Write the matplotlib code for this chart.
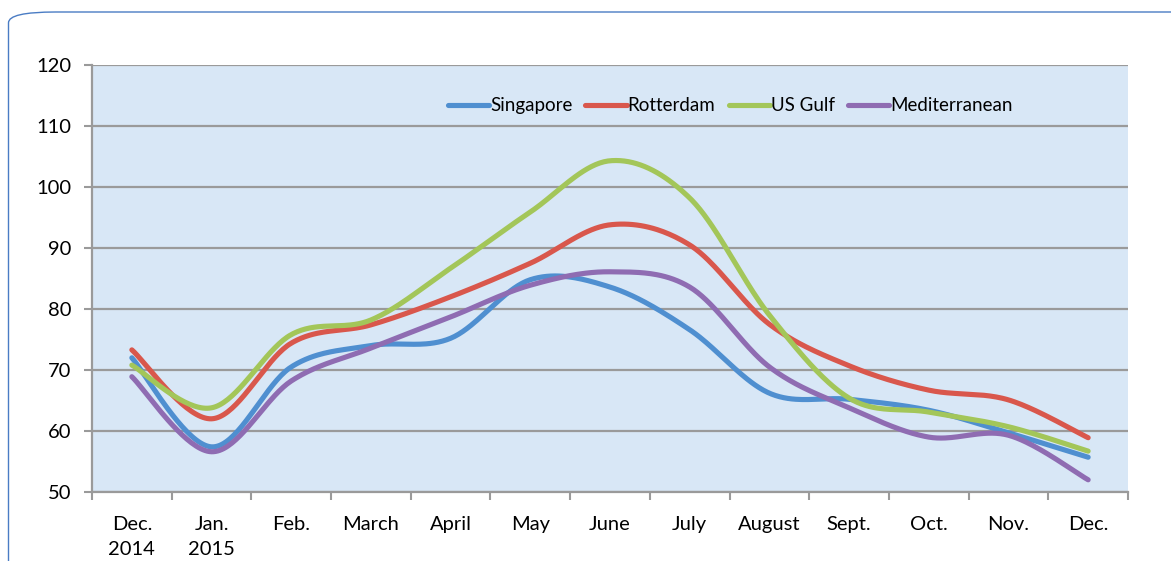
import numpy as np
import matplotlib
matplotlib.use("Agg")
import matplotlib.pyplot as plt
from matplotlib.patches import FancyBboxPatch

categories = ["Dec.\n2014", "Jan.\n2015", "Feb.", "March", "April", "May", "June",
              "July", "August", "Sept.", "Oct.", "Nov.", "Dec."]
singapore = [72.0, 57.4, 70.5, 74.0, 75.2, 84.8, 83.6, 76.6, 66.2, 65.2, 63.4, 59.7, 55.7]
rotterdam = [73.3, 62.0, 74.4, 77.4, 82.0, 87.5, 93.8, 90.5, 77.5, 70.7, 66.7, 65.1, 58.9]
us_gulf = [70.8, 63.8, 75.8, 78.2, 86.7, 95.9, 104.3, 98.2, 79.0, 65.4, 63.1, 60.7, 56.7]
mediterranean = [68.9, 56.6, 68.2, 73.6, 78.7, 83.9, 86.1, 83.6, 70.5, 63.8, 59.0, 59.3, 52.0]
series_names = ["Singapore", "Rotterdam", "US Gulf", "Mediterranean"]
colors = ["#4f8fd0", "#d9574c", "#a3c659", "#8f6cb2"]
yticks = [50, 60, 70, 80, 90, 100, 110, 120]

plt.rcParams['font.family'] = ['Lato', 'DejaVu Sans']


def smooth(xs, ys, n=40):
    """Excel-like smoothed line: Catmull-Rom style cubic Bezier segments."""
    xs = np.asarray(xs, float)
    ys = np.asarray(ys, float)
    px = np.concatenate([[xs[0]], xs, [xs[-1]]])
    py = np.concatenate([[ys[0]], ys, [ys[-1]]])
    outx, outy = [], []
    t = np.linspace(0, 1, n)
    for i in range(1, len(px) - 2):
        p0 = np.array([px[i], py[i]])
        p3 = np.array([px[i + 1], py[i + 1]])
        c1 = p0 + (np.array([px[i + 1], py[i + 1]]) - np.array([px[i - 1], py[i - 1]])) / 6.0
        c2 = p3 - (np.array([px[i + 2], py[i + 2]]) - np.array([px[i], py[i]])) / 6.0
        b = ((1 - t) ** 3)[:, None] * p0 + (3 * (1 - t) ** 2 * t)[:, None] * c1 \
            + (3 * (1 - t) * t ** 2)[:, None] * c2 + (t ** 3)[:, None] * p3
        outx.extend(b[:, 0])
        outy.extend(b[:, 1])
    return np.array(outx), np.array(outy)


fig = plt.figure(figsize=(11.71, 5.61), dpi=100)
border = FancyBboxPatch((8.5 / 1171, -0.2), 1.2, 1.2 - 12 / 561,
                        boxstyle="round,pad=0,rounding_size=0.04",
                        transform=fig.transFigure, fill=False,
                        edgecolor="#4a7cc4", linewidth=1.0, mutation_aspect=561 / 1171)
fig.patches.append(border)

ax = fig.add_axes([92 / 1171, 1 - 492 / 561, (1128 - 92) / 1171, (492 - 65) / 561])
ax.set_facecolor("#d8e7f6")

x = np.arange(len(categories))
for name, vals, c in zip(series_names, [singapore, rotterdam, us_gulf, mediterranean], colors):
    sx, sy = smooth(x, vals)
    ax.plot(sx, sy, color=c, lw=3.7, solid_capstyle='round', label=name, zorder=3)

ax.set_xlim(-0.5, len(categories) - 0.5)
ax.set_ylim(50, 120)
ax.set_yticks(yticks)
ax.set_yticklabels([str(v) for v in yticks])
ax.yaxis.grid(True, color="#9a9a9a", lw=1.6)
ax.set_axisbelow(True)

ax.set_xticks(x)
ax.set_xticklabels(categories, linespacing=1.6)
ax.set_xticks(np.arange(-0.5, len(categories), 1.0), minor=True)
ax.tick_params(axis='x', which='major', length=0, pad=17, labelsize=14.5)
ax.tick_params(axis='x', which='minor', length=6, width=1.5, color="#9a9a9a")
ax.tick_params(axis='y', length=6, width=1.5, color="#9a9a9a", labelsize=14.5, pad=9)
for lab in ax.get_xticklabels():
    lab.set_verticalalignment('top')

for s in ['top', 'right']:
    ax.spines[s].set_visible(False)
for s in ['left', 'bottom']:
    ax.spines[s].set_color("#9a9a9a")
    ax.spines[s].set_linewidth(1.6)

leg = ax.legend(loc='center', bbox_to_anchor=(0.616, 0.904), ncol=4, frameon=False,
                fontsize=13.5, handlelength=2.2, handletextpad=0.05, columnspacing=0.7)

fig.savefig("out.png", dpi=100)
